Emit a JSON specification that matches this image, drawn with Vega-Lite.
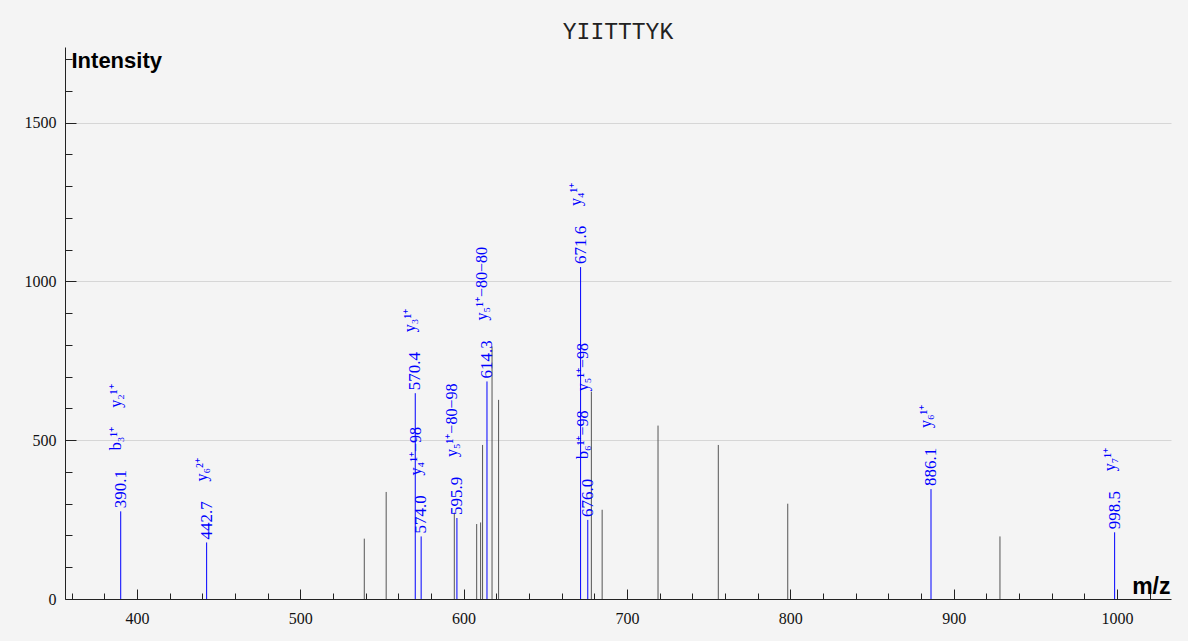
{
  "$schema": "https://vega.github.io/schema/vega-lite/v6.json",
  "width": 1106,
  "height": 552,
  "autosize": {"type": "none"},
  "padding": {"left": 65, "top": 47, "right": 17, "bottom": 42},
  "background": "#f4f4f4",
  "title": {"text": "YIITTTYK", "font": "Liberation Mono", "fontSize": 23, "fontWeight": "normal", "color": "#222222", "anchor": "middle", "baseline": "alphabetic", "offset": -15},
  "config": {"view": {"stroke": null}},
  "data": {
    "values": [
      {"mz": 390.1, "intensity": 276, "kind": "matched", "label": "390.1", "ions": "b₃¹⁺\u2003\u2009y₂¹⁺"},
      {"mz": 442.7, "intensity": 178, "kind": "matched", "label": "442.7", "ions": "y₆²⁺"},
      {"mz": 539.2, "intensity": 190, "kind": "other"},
      {"mz": 552.6, "intensity": 337, "kind": "other"},
      {"mz": 570.4, "intensity": 648, "kind": "matched", "label": "570.4", "ions": "y₃¹⁺"},
      {"mz": 574.0, "intensity": 197, "kind": "matched", "label": "574.0", "ions": "y₄¹⁺−98"},
      {"mz": 594.3, "intensity": 272, "kind": "other"},
      {"mz": 595.9, "intensity": 255, "kind": "matched", "label": "595.9", "ions": "y₅¹⁺−80−98"},
      {"mz": 608.0, "intensity": 236, "kind": "other"},
      {"mz": 610.4, "intensity": 241, "kind": "other"},
      {"mz": 611.6, "intensity": 485, "kind": "other"},
      {"mz": 614.3, "intensity": 685, "kind": "matched", "label": "614.3", "ions": "y₅¹⁺−80−80"},
      {"mz": 617.4, "intensity": 795, "kind": "other"},
      {"mz": 621.4, "intensity": 627, "kind": "other"},
      {"mz": 671.6, "intensity": 1045, "kind": "matched", "label": "671.6", "ions": "y₄¹⁺"},
      {"mz": 676.0, "intensity": 249, "kind": "matched", "label": "676.0", "ions": "b₆¹⁺−98\u2003\u2009y₅¹⁺−98"},
      {"mz": 678.2, "intensity": 653, "kind": "other"},
      {"mz": 684.8, "intensity": 281, "kind": "other"},
      {"mz": 719.0, "intensity": 546, "kind": "other"},
      {"mz": 755.9, "intensity": 485, "kind": "other"},
      {"mz": 798.4, "intensity": 300, "kind": "other"},
      {"mz": 886.1, "intensity": 346, "kind": "matched", "label": "886.1", "ions": "y₆¹⁺"},
      {"mz": 928.3, "intensity": 197, "kind": "other"},
      {"mz": 998.5, "intensity": 210, "kind": "matched", "label": "998.5", "ions": "y₇¹⁺"}
    ]
  },
  "encoding": {
    "x": {
      "field": "mz",
      "type": "quantitative",
      "scale": {"domain": [356, 1033], "nice": false, "zero": false},
      "axis": {
        "title": "m/z",
        "values": [360, 380, 400, 420, 440, 460, 480, 500, 520, 540, 560, 580, 600, 620, 640, 660, 680, 700, 720, 740, 760, 780, 800, 820, 840, 860, 880, 900, 920, 940, 960, 980, 1000, 1020],
        "format": "d",
        "labelExpr": "datum.value % 100 === 0 ? datum.label : ''",
        "tickSize": {"condition": {"test": "datum.value % 100 === 0", "value": -10}, "value": -6},
        "labelPadding": 21,
        "labelBaseline": "top",
        "grid": false,
        "domainColor": "#222222",
        "tickColor": "#222222",
        "labelFont": "Liberation Serif",
        "labelFontSize": 16,
        "labelColor": "#111111",
        "labelFlush": false,
        "labelOverlap": false,
        "titleFont": "Liberation Sans",
        "titleFontSize": 23,
        "titleFontWeight": "bold",
        "titleColor": "#000000",
        "titleAlign": "right",
        "titleBaseline": "alphabetic",
        "titleAngle": 0,
        "titleX": 1105,
        "titleY": -6
      }
    },
    "y": {
      "field": "intensity",
      "type": "quantitative",
      "scale": {"domain": [0, 1738], "nice": false},
      "axis": {
        "title": "Intensity",
        "values": [0, 100, 200, 300, 400, 500, 600, 700, 800, 900, 1000, 1100, 1200, 1300, 1400, 1500, 1600, 1700],
        "format": "d",
        "labelExpr": "datum.value % 500 === 0 ? datum.label : ''",
        "tickSize": {"condition": {"test": "datum.value % 500 === 0", "value": -11}, "value": -7},
        "labelPadding": 20,
        "grid": true,
        "gridColor": "#d6d6d6",
        "gridOpacity": {"condition": {"test": "datum.value % 500 === 0 && datum.value > 0", "value": 1}, "value": 0},
        "domainColor": "#222222",
        "tickColor": "#222222",
        "labelFont": "Liberation Serif",
        "labelFontSize": 16,
        "labelColor": "#111111",
        "labelFlush": false,
        "labelOverlap": false,
        "titleFont": "Liberation Sans",
        "titleFontSize": 22,
        "titleFontWeight": "bold",
        "titleColor": "#000000",
        "titleAngle": 0,
        "titleAlign": "left",
        "titleBaseline": "alphabetic",
        "titleX": 6,
        "titleY": 20
      }
    }
  },
  "layer": [
    {
      "mark": {"type": "rule", "strokeWidth": 1},
      "encoding": {
        "y2": {"datum": 0},
        "color": {"field": "kind", "type": "nominal", "scale": {"domain": ["other", "matched"], "range": ["#555555", "#0000ff"]}, "legend": null}
      }
    },
    {
      "transform": [{"filter": "datum.kind === 'matched'"}],
      "mark": {"type": "text", "angle": 270, "align": "left", "baseline": "middle", "dx": 3, "font": "Liberation Serif", "fontSize": 17, "color": "#0000ff"},
      "encoding": {"text": {"field": "label"}}
    },
    {
      "transform": [{"filter": "datum.kind === 'matched'"}],
      "mark": {"type": "text", "angle": 270, "align": "left", "baseline": "alphabetic", "dx": 61, "font": "Liberation Serif", "fontSize": 16, "color": "#0000ff"},
      "encoding": {"text": {"field": "ions"}}
    }
  ]
}
